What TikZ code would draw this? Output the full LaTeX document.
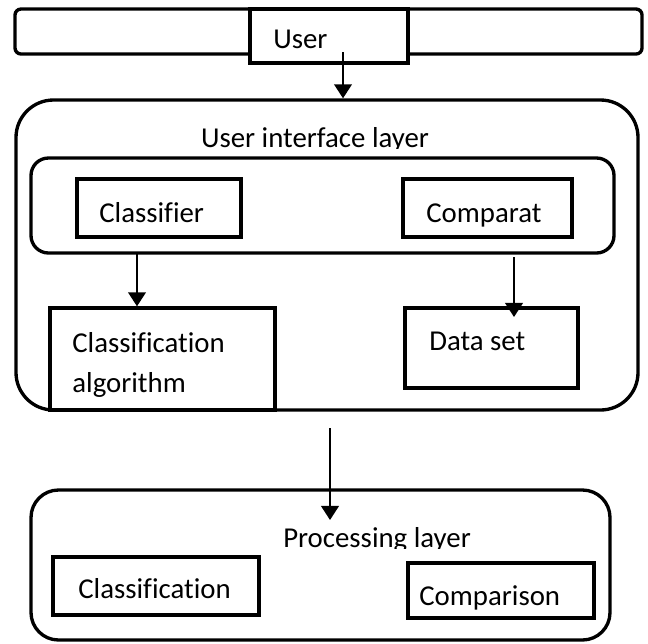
\documentclass[tikz,border=0pt]{standalone}
\usepackage{fontspec}
\setmainfont[Ligatures=NoCommon]{Carlito}
\usetikzlibrary{arrows.meta, positioning, fit}

\begin{document}
\begin{tikzpicture}[
    x=0.02cm, y=-0.02cm,
    font=\fontsize{16.4}{22.7}\selectfont,
    layer/.style={
      draw,
      line width=1.9pt,
      rounded corners=#1,
      inner sep=0pt
    },
    layer/.default=3mm,
    unit/.style={
      draw,
      line width=1.9pt,
      fill=white,
      inner sep=0pt
    },
    label/.style={inner sep=0pt, anchor=base west},
    title/.style={inner sep=0pt, anchor=base},
    arr/.style={line width=1.3pt, -{Triangle[width=10pt,length=8pt]}}
  ]
    \useasboundingbox (0,0) rectangle (648,643);
    % user bar
    \node[layer=1.2mm, fit={(15,9) (642,54)}] (bar) {};
    \node[unit, fit={(250,9) (408,63)}] (userbox) {};
    \node[label] (user) at (273,48) {User};
    % user interface layer
    \node[layer=7.5mm, fit={(16,100) (638,410)}] (ui) {};
    \begin{scope}
      \clip (150,110) rectangle (500,148);
      \node[title] (uititle) at (315,147) {User interface layer};
    \end{scope}
    \node[layer=3.5mm, fit={(31,158) (614,253)}] (front) {};
    \node[unit, fit={(77,179) (241,237)}] (clsbox) {};
    \node[label] (cls) at (99,222) {Classifier};
    \node[unit, fit={(403,179) (572,237)}] (cmpbox) {};
    \node[label] (cmp) at (426,222) {Comparat};
    \node[unit, fit={(50,308) (275,410)}] (algobox) {};
    \node[label, align=left, anchor=north west] (algo) at (72,332) {Classification\\algorithm};
    \node[unit, fit={(405,308) (578,388)}] (databox) {};
    \node[label] (data) at (429,350) {Data set};
    % processing layer
    \node[layer=5.5mm, fit={(31,490) (610,640)}] (proc) {};
    \begin{scope}
      \clip (250,520) rectangle (500,548);
      \node[title] (proctitle) at (377,547) {Processing layer};
    \end{scope}
    \node[unit, fit={(53,557) (259,615)}] (pclsbox) {};
    \node[label] (pcls) at (78,598) {Classification};
    \node[unit, fit={(408,563) (594,618)}] (pcmpbox) {};
    \node[label] (pcmp) at (419,605) {Comparison};
    % connectors
    \coordinate (a1) at (343,52);
    \coordinate (a2) at (137,253);
    \coordinate (a3) at (514,257);
    \coordinate (a3end) at (514,317);
    \coordinate (a4) at (330,428);
    \coordinate (a4end) at (330,520);
    \draw[arr] (a1) -- (a1 |- ui.north);
    \draw[arr] (a2) -- (a2 |- algobox.north);
    \draw[arr] (a3) -- (a3end);
    \draw[arr] (a4) -- (a4end);
  \end{tikzpicture}
\end{document}
